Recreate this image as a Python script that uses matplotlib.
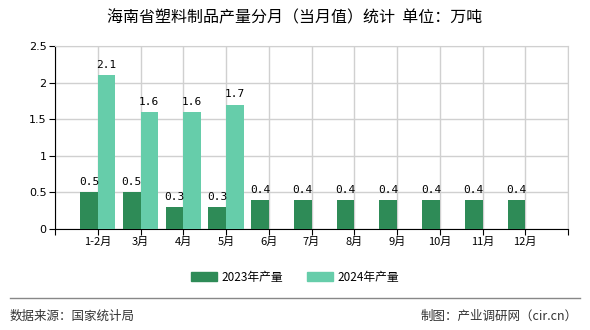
import numpy as np
import matplotlib
matplotlib.use("Agg")
import matplotlib.pyplot as plt
from matplotlib.patches import Rectangle

plt.rcParams['font.family'] = ['Noto Sans CJK SC', 'DejaVu Sans']

months = ["1-2月", "3月", "4月", "5月", "6月", "7月", "8月", "9月", "10月", "11月", "12月"]
vals_2023 = [0.5, 0.5, 0.3, 0.3, 0.4, 0.4, 0.4, 0.4, 0.4, 0.4, 0.4]
vals_2024 = [2.1, 1.6, 1.6, 1.7]
yticks = [0, 0.5, 1, 1.5, 2, 2.5]
ytick_labels = ["0", "0.5", "1", "1.5", "2", "2.5"]

c23 = "#2e8b57"
c24 = "#66cdaa"

fig = plt.figure(figsize=(5.9, 3.3), dpi=100)
ax = fig.add_axes([55 / 590, 1 - 229 / 330, 513 / 590, 183 / 330])

x = np.arange(1, len(months) + 1)
w = 0.41
ax.bar(x[:len(vals_2023)] - w / 2, vals_2023, w, color=c23, zorder=3)
ax.bar(x[:len(vals_2024)] + w / 2, vals_2024, w, color=c24, zorder=3)

for xi, v in zip(x, vals_2023):
    ax.text(xi - w / 2, v + 0.07, f"{v:.1f}", ha="center", va="bottom",
            fontsize=8, family="DejaVu Sans Mono", zorder=4)
for xi, v in zip(x, vals_2024):
    ax.text(xi + w / 2, v + 0.07, f"{v:.1f}", ha="center", va="bottom",
            fontsize=8, family="DejaVu Sans Mono", zorder=4)

ax.set_xlim(0, len(months) + 1)
ax.set_ylim(0, 2.5)
ax.set_yticks(yticks)
ax.set_yticklabels(ytick_labels, fontsize=8, family="DejaVu Sans")
ax.set_xticks(np.arange(0, len(months) + 2))
ax.set_xticklabels([""] + months + [""], fontsize=8)
ax.grid(True, color="#d0d0d0", linewidth=1, zorder=0)
for s in ["top", "right"]:
    ax.spines[s].set_color("#d0d0d0")
for s in ["left", "bottom"]:
    ax.spines[s].set_color("black")
ax.tick_params(axis="both", length=4, color="black", pad=2)

fig.text(0.5, 1 - 18 / 330, "海南省塑料制品产量分月（当月值）统计  单位：万吨",
         ha="center", va="center", fontsize=11.5)

# legend
handles = [Rectangle((0, 0), 1, 1, color=c23), Rectangle((0, 0), 1, 1, color=c24)]
fig.legend(handles, ["2023年产量", "2024年产量"], loc="center",
           bbox_to_anchor=(0.5, 1 - 277 / 330), ncol=2, frameon=False,
           fontsize=8.5, handlelength=2.2, handleheight=0.8, columnspacing=2.0,
           handletextpad=0.4)

fig.add_artist(plt.Line2D([10 / 590, 580 / 590], [1 - 298 / 330] * 2,
                          color="#888888", linewidth=1))
fig.text(10 / 590, 1 - 316 / 330, "数据来源：国家统计局", ha="left", va="center",
         fontsize=9, color="#333333")
fig.text(578 / 590, 1 - 316 / 330, "制图：产业调研网（cir.cn）", ha="right", va="center",
         fontsize=9, color="#333333")

fig.savefig("out.png", dpi=100)
